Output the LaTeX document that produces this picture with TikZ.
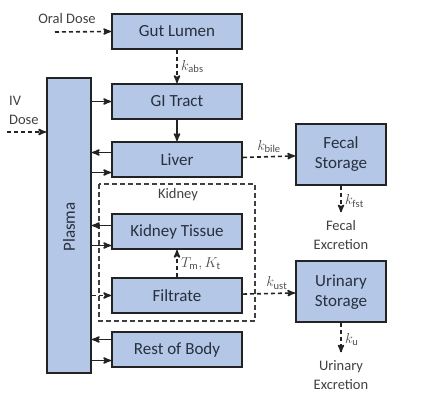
\documentclass[tikz,border=0pt]{standalone}
\usepackage{amsmath}
\usepackage{fontspec}
\setmainfont{Carlito}
\usepackage{tikz}
\usetikzlibrary{positioning}
\usetikzlibrary{arrows}
\definecolor{boxblue}{RGB}{180,199,231}
\definecolor{boxline}{RGB}{35,35,35}
\definecolor{boxtext}{RGB}{40,48,62}

\begin{document}
\begin{tikzpicture}[x=1pt,y=-1pt,->,>={stealth'[scale=1.3]},line width=1.6pt,draw=boxline,
	comp node/.style={rectangle,fill=boxblue,draw=boxline,line width=2pt,minimum width=130pt,minimum height=35pt,text=boxtext,font=\fontsize{17}{19}\selectfont},
	store node/.style={comp node,minimum width=90pt,minimum height=61pt,align=center,font=\fontsize{17}{20}\selectfont},
	small text/.style={text=black!75,font=\fontsize{14.5}{19}\selectfont},
	flow/.style={->,line width=1.6pt},
	dashed flow/.style={->,dashed,line width=1.6pt,dash pattern=on 4pt off 3pt}]

		\useasboundingbox (0,0) rectangle (437,411);

		\node[comp node] (gut) at (177,31.5) {Gut Lumen};
		\node[comp node] (gi) [below=33pt of gut] {GI Tract};
		\node[comp node] (liver) [below=21pt of gi] {Liver};
		\node[comp node] (ktissue) [below=35pt of liver] {Kidney Tissue};
		\node[comp node] (filtrate) [below=27pt of ktissue] {Filtrate};
		\node[comp node] (rest) [below=17pt of filtrate] {Rest of Body};

		\node[comp node,minimum width=44pt,minimum height=295pt] (plasma) at (69,225.5) {};
		\node[rotate=90,text=boxtext,font=\fontsize{17}{19}\selectfont] (plasmalabel) at (69,227) {Plasma};

		\node[store node] (fecal) at (341,154.5) {Fecal\\Storage};
		\node[store node] (urinary) at (341,292) {Urinary\\Storage};

		\node[small text,align=center] (fecalexc) at (341,235) {Fecal\\Excretion};
		\node[small text,align=center] (urinaryexc) at (341,375) {Urinary\\Excretion};

		\node[small text] (oraltext) at (67,19) {Oral Dose};
		\node[small text,align=left,anchor=west] (ivtext) at (5,110) {IV\\Dose};
		\coordinate (oral) at (55,32);
		\coordinate (iv) at (7,132);

		% return and supply points on the organ boxes
		\coordinate (liverout) at ([yshift=7pt]liver.west);
		\coordinate (liverin) at ([yshift=-13pt]liver.west);
		\coordinate (ktout) at ([yshift=6pt]ktissue.west);
		\coordinate (ktin) at ([yshift=-14pt]ktissue.west);
		\coordinate (restout) at ([yshift=10pt]rest.west);
		\coordinate (restin) at ([yshift=-11pt]rest.west);

		% kidney compartment
		\draw[-,dashed,line width=1.3pt,dash pattern=on 5pt off 3pt,draw=black!75] ([xshift=-12pt,yshift=29pt]ktissue.north west) rectangle ([xshift=12pt,yshift=-7pt]filtrate.south east);
		\node[small text] (kidneylabel) at (178,195) {Kidney};

		\path[every node/.style={font=\fontsize{15}{17}\selectfont,text=black!70}]
		(oral)	edge[dashed flow] (gut.west)
		(iv)	edge[dashed flow] (plasma.west |- iv)
		(gut)	edge[dashed flow] node[right] {$k_{\mathrm{abs}}$} (gi)
		(gi)	edge[flow] (liver)
		(plasma.east |- gi.west)	edge[flow] (gi.west)
		(liverout)	edge[flow] (plasma.east |- liverout)
		(plasma.east |- liverin)	edge[flow] (liverin)
		(ktout)	edge[flow] (plasma.east |- ktout)
		(plasma.east |- ktin)	edge[flow] (ktin)
		(plasma.east |- filtrate.west)	edge[dashed flow] (filtrate.west)
		(restout)	edge[flow] (plasma.east |- restout)
		(plasma.east |- restin)	edge[flow] (restin)
		(filtrate)	edge[dashed flow] node[right] {$T_{\mathrm{m}}, K_{\mathrm{t}}$} (ktissue)
		(liver)	edge[dashed flow] node[above,pos=0.5] {$k_{\mathrm{bile}}$} (fecal)
		(filtrate)	edge[dashed flow] node[above,pos=0.65] {$k_{\mathrm{ust}}$} (urinary)
		(fecal)	edge[dashed flow,shorten >=4pt] node[right] {$k_{\mathrm{fst}}$} (fecalexc)
		(urinary)	edge[dashed flow,shorten >=4pt] node[right] {$k_{\mathrm{u}}$} (urinaryexc);
	\end{tikzpicture}
\end{document}
